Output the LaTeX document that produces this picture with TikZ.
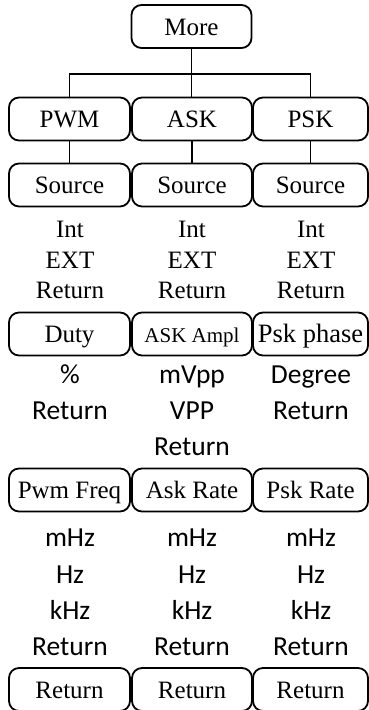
\documentclass[tikz,border=0pt]{standalone}
\usepackage{fontspec}
\setmainfont{Liberation Serif}
\newfontfamily\calfont{Carlito}
\begin{document}
\begin{tikzpicture}[x=1pt,y=-1pt,line width=1.8pt,
  menubox/.style={draw,rounded corners=10pt,minimum height=43pt,inner sep=0pt,
    text height=17pt,text depth=0pt,font=\fontsize{25}{30}\selectfont},
  timesitem/.style={anchor=base,inner sep=0pt,font=\fontsize{25}{30}\selectfont},
  caliitem/.style={anchor=base,inner sep=0pt,font=\calfont\fontsize{27.5}{33}\selectfont}]
\useasboundingbox (0,0) rectangle (368,710);
% top
\node[menubox,minimum width=120pt] (more) at (191.5,26.5) {More};
% row 1
\node[menubox,minimum width=121pt] (pwm) at (69.5,119) {PWM};
\node[menubox,minimum width=120pt] (ask) at (192,119) {ASK};
\node[menubox,minimum width=115pt] (psk) at (310.5,119) {PSK};
% row 2
\node[menubox,minimum width=121pt] (s1) at (69.5,185) {Source};
\node[menubox,minimum width=120pt] (s2) at (192,185) {Source};
\node[menubox,minimum width=115pt] (s3) at (310.5,185) {Source};
% row 3
\node[menubox,minimum width=121pt] (duty) at (69.5,334) {Duty};
\node[menubox,minimum width=120pt,font=\fontsize{21}{25}\selectfont] (ampl) at (192,334) {ASK Ampl};
\node[menubox,minimum width=115pt,font=\fontsize{26.5}{31}\selectfont] (phase) at (310.5,334) {Psk phase};
% row 4
\node[menubox,minimum width=121pt] (pf) at (69.5,490) {Pwm Freq};
\node[menubox,minimum width=120pt] (ar) at (192,490) {Ask Rate};
\node[menubox,minimum width=115pt] (pr) at (310.5,490) {Psk Rate};
% row 5
\node[menubox,minimum width=121pt] (r1) at (69.5,689.5) {Return};
\node[menubox,minimum width=120pt] (r2) at (192,689.5) {Return};
\node[menubox,minimum width=115pt] (r3) at (310.5,689.5) {Return};
% connectors
\coordinate (hub) at (191.5,74);
\draw (more.south) -- (hub);
\draw (pwm.north) |- (hub) -| (psk.north);
\draw (hub) -- (hub |- ask.north);
\draw (pwm.south) -- (s1.north);
\draw (ask.south) -- (s2.north);
\draw (psk.south) -- (s3.north);
% source lists
\foreach \x/\n in {70/a,192/b,311/c}{
  \node[timesitem] (int\n) at (\x,237) {Int};
  \node[timesitem] (ext\n) at (\x,268) {EXT};
  \node[timesitem] (ret\n) at (\x,298) {Return};
}
% duty / ampl / phase lists
\node[caliitem] (pct) at (70,383) {\%};
\node[caliitem] (retd) at (70,419) {Return};
\node[caliitem] (mvpp) at (192,383) {mVpp};
\node[caliitem] (vpp) at (192,419) {VPP};
\node[caliitem] (reta) at (192,455) {Return};
\node[caliitem] (deg) at (311,383) {Degree};
\node[caliitem] (retp) at (311,419) {Return};
% frequency lists
\foreach \x/\n in {70/a,192/b,311/c}{
  \node[caliitem] (mhz\n) at (\x,546) {mHz};
  \node[caliitem] (hz\n) at (\x,583) {Hz};
  \node[caliitem] (khz\n) at (\x,619) {kHz};
  \node[caliitem] (fret\n) at (\x,655) {Return};
}
\end{tikzpicture}
\end{document}
